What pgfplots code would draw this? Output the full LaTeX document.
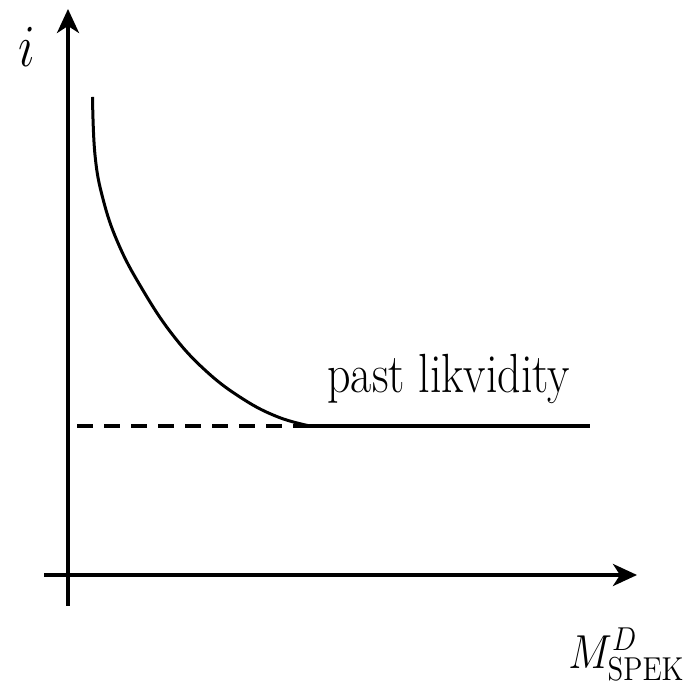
\documentclass[border=0pt]{standalone}
\usepackage{amsmath}
\usepackage{pgfplots}
\pgfplotsset{compat=1.18}
\usetikzlibrary{arrows.meta}
\begin{document}
\begin{tikzpicture}
\begin{axis}[
  scale only axis,
  width=296.5pt, height=298.5pt,
  xmin=-24, xmax=569, ymin=-31, ymax=566,
  axis lines=middle,
  axis line style={line width=1.9pt, -{Stealth[length=12pt,width=11pt,inset=3.5pt]}},
  xtick=\empty, ytick=\empty,
  clip=false,
]
\path (axis cs:-68,-119) rectangle (axis cs:591,575);
\addplot[line width=1.5pt, smooth, tension=0.7] coordinates {
  (24.5,478) (27,420) (35,376) (50,332) (73,288) (104,241) (138,204) (175,176) (210,158) (242,149)
};
\addplot[line width=1.9pt, dash pattern=on 8pt off 5.5pt] coordinates {(9,149) (236,149)};
\addplot[line width=1.9pt] coordinates {(236,149) (522,149)};
\node[anchor=base west, inner sep=0pt, yscale=1.2, font=\fontsize{23}{27}\selectfont] at (axis cs:259,182) {past likvidity};
\node[anchor=base, inner sep=0pt, yscale=1.2, font=\fontsize{24}{28}\selectfont] at (axis cs:-41,508) {$i$};
\node[anchor=base west, inner sep=0pt, yscale=1.15, font=\fontsize{22}{26}\selectfont] at (axis cs:500,-93) {$M^{D}_{\mathrm{SPEK}}$};
\end{axis}
\end{tikzpicture}
\end{document}
